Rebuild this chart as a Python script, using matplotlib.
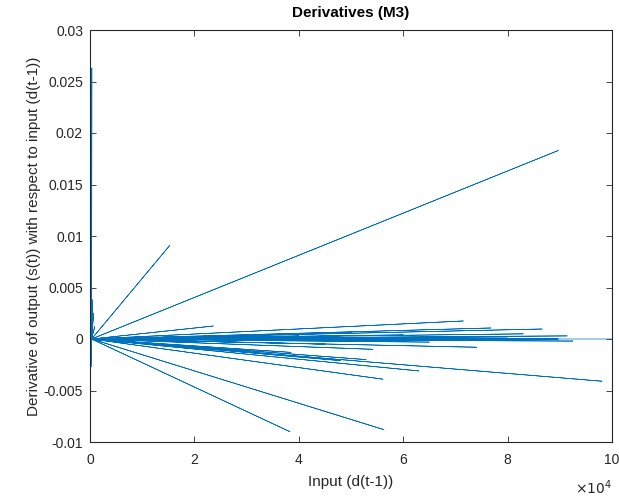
import matplotlib
matplotlib.use("Agg")
import matplotlib.pyplot as plt

plt.rcParams['font.family'] = ['Liberation Sans', 'DejaVu Sans']
plt.rcParams['axes.unicode_minus'] = False

# input d(t-1) and derivative, in plotting order (one polyline)
x_vals = [300, 350, 300, 89700, 300, 15300, 300, 250, 300, 23600, 300, 71500,
          300, 500, 300, 76800, 300, 86600, 300, 200, 300, 98100, 300, 83000,
          300, 700, 300, 91400, 300, 56100, 300, 92500, 300, 38300, 300, 74100,
          300, 56300, 300, 63000, 300, 900, 300, 52900, 300, 38500, 300, 54200,
          300, 89700, 300, 40000, 300, 60000, 300, 65000, 300, 80000, 300,
          45000, 300, 70000, 300, 48000, 300, 35000, 300, 50000, 300, 105000]
y_vals = [0.0, 0.0263, 0.0, 0.0183, 0.0, 0.0091, 0.0, 0.0054, 0.0, 0.00126,
          0.0, 0.00175, 0.0, 0.0038, 0.0, 0.00107, 0.0, 0.00097, 0.0,
          -0.0027, 0.0, -0.0041, 0.0, 0.0005, 0.0, 0.0025, 0.0, 0.0003,
          0.0, -0.0039, 0.0, -0.0002, 0.0, -0.009, 0.0, -0.0008, 0.0, -0.0088,
          0.0, -0.0031, 0.0, 0.0012, 0.0, -0.002, 0.0, -0.0013, 0.0, -0.001,
          0.0, 0.0, 0.0, 0.0003, 0.0, 0.0004, 0.0, -0.0003, 0.0, 0.0002, 0.0,
          -0.0005, 0.0, -0.0001, 0.0, -0.0021, 0.0, 0.0001, 0.0, 0.0006, 0.0, 0.0]

x_ticks = [0, 20000, 40000, 60000, 80000, 100000]
x_ticklabels = ['0', '2', '4', '6', '8', '10']
y_ticks = [-0.01, -0.005, 0, 0.005, 0.01, 0.015, 0.02, 0.025, 0.03]
y_ticklabels = ['-0.01', '-0.005', '0', '0.005', '0.01', '0.015', '0.02', '0.025', '0.03']

fig = plt.figure(figsize=(6.19, 4.97), dpi=100)
ax = fig.add_axes([90 / 619, 55 / 497, 522 / 619, 412 / 497])

ax.plot(x_vals, y_vals, color='#0072BD', linewidth=0.5)

ax.set_xlim(0, 100000)
ax.set_ylim(-0.01, 0.03)
ax.set_xticks(x_ticks)
ax.set_xticklabels(x_ticklabels)
ax.set_yticks(y_ticks)
ax.set_yticklabels(y_ticklabels)

edge = '#262626'
for s in ax.spines.values():
    s.set_color(edge)
    s.set_linewidth(0.8)
ax.tick_params(direction='in', length=4, width=0.6, color=edge, labelcolor=edge,
               labelsize=10, top=True, right=True, pad=5)
ax.tick_params(axis='x', pad=8)

ax.set_title('Derivatives (M3)', fontsize=11, fontweight='bold', color='black', pad=9)
ax.set_xlabel('Input (d(t-1))', fontsize=11, color=edge, labelpad=6)
ax.set_ylabel('Derivative of output (s(t)) with respect to input (d(t-1))',
              fontsize=11, color=edge, labelpad=2)
ax.text(1.0, -0.11, r'$\times10^{4}$', transform=ax.transAxes, ha='right', va='center',
        fontsize=10, color=edge)

fig.savefig('out.png', dpi=100)
